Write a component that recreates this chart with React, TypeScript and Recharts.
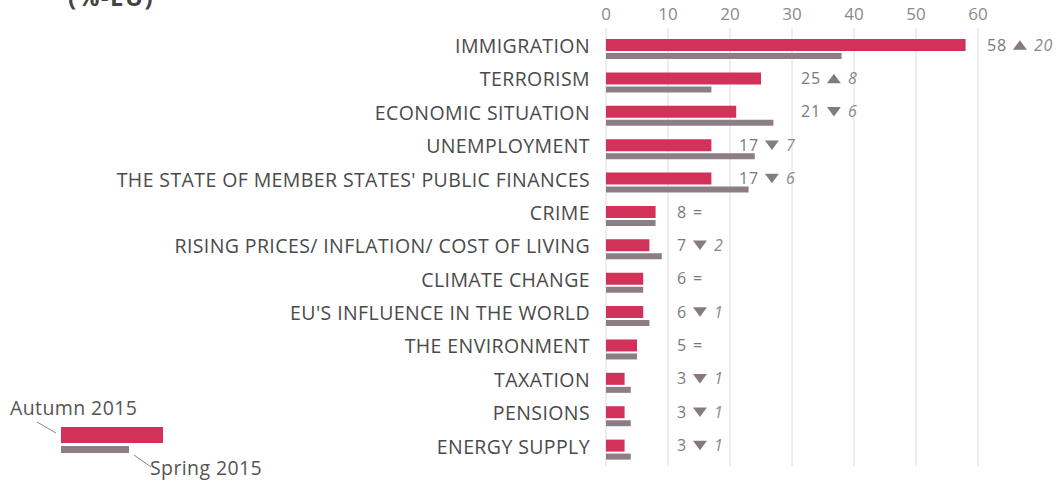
import React from "react";
import { BarChart, Bar, XAxis, YAxis, CartesianGrid, LabelList } from "recharts";

const categories = [
  "IMMIGRATION",
  "TERRORISM",
  "ECONOMIC SITUATION",
  "UNEMPLOYMENT",
  "THE STATE OF MEMBER STATES' PUBLIC FINANCES",
  "CRIME",
  "RISING PRICES/ INFLATION/ COST OF LIVING",
  "CLIMATE CHANGE",
  "EU'S INFLUENCE IN THE WORLD",
  "THE ENVIRONMENT",
  "TAXATION",
  "PENSIONS",
  "ENERGY SUPPLY",
];
const autumn2015 = [58, 25, 21, 17, 17, 8, 7, 6, 6, 5, 3, 3, 3];
const spring2015 = [38, 17, 27, 24, 23, 8, 9, 6, 7, 5, 4, 4, 4];
const changeDir = ["up", "up", "down", "down", "down", "eq", "down", "eq", "down", "eq", "down", "down", "down"];
const changeVal = [20, 8, 6, 7, 6, 0, 2, 0, 1, 0, 1, 1, 1];
const xTicks = [0, 10, 20, 30, 40, 50, 60];

const data = categories.map((name, i) => ({
  name,
  autumn: autumn2015[i],
  spring: spring2015[i],
  dir: changeDir[i],
  chg: changeVal[i],
}));

const RED = "#d2325a";
const GREY = "#8c7e84";
const FONT = "'Open Sans', 'Noto Sans', sans-serif";

const CatTick = (props: any) => {
  const { x, y, payload } = props;
  return (
    <text x={x} y={y - 2.5} dy="0.35em" textAnchor="end" fill="#4a4a4a" fontSize={19.5} letterSpacing={0.4} fontFamily={FONT}>
      {payload.value}
    </text>
  );
};

const LBL_FS = 16;
const LBL_LS = 0.8;
const DIGIT_W = 0.572 * LBL_FS + LBL_LS;

const ValueLabel = (props: any) => {
  const { x, y, width, height, value, index } = props;
  const v = Number(value);
  const pxPerUnit = width / v;
  const lx = x + Math.ceil(v / 10) * 10 * pxPerUnit + 9;
  const cy = y + height / 2;
  const d = data[index];
  const numW = String(v).length * DIGIT_W;
  const tx = lx + numW + 6;
  const tw = 14;
  const th = 9.5;
  return (
    <g>
      <text x={lx} y={cy} dy="0.35em" fontSize={LBL_FS} letterSpacing={LBL_LS} fontFamily={FONT} fill="#7a7a7a">
        {v}
      </text>
      {d.dir === "eq" ? (
        <text x={tx} y={cy} dy="0.35em" fontSize={LBL_FS} fontFamily={FONT} fill="#7a7a7a">=</text>
      ) : (
        <>
          <path
            d={
              d.dir === "up"
                ? `M${tx},${cy + th / 2} L${tx + tw},${cy + th / 2} L${tx + tw / 2},${cy - th / 2} Z`
                : `M${tx},${cy - th / 2} L${tx + tw},${cy - th / 2} L${tx + tw / 2},${cy + th / 2} Z`
            }
            fill="#857a7e"
          />
          <text x={tx + tw + 7} y={cy} dy="0.35em" fontSize={LBL_FS} letterSpacing={LBL_LS} fontStyle="italic" fontFamily={FONT} fill="#8a8a8a">
            {d.chg}
          </text>
        </>
      )}
    </g>
  );
};

export default function App() {
  return (
    <div style={{ position: "absolute", left: 0, top: 0, width: 1061, height: 481, background: "#fff" }}>
      <BarChart
        width={1061}
        height={481}
        data={data}
        layout="vertical"
        margin={{ top: 0, right: 83, bottom: 15, left: 0 }}
        barGap={2}
        barCategoryGap={0}
      >
        <CartesianGrid horizontal={false} vertical={true} stroke="#dcdcdc" />
        <XAxis
          type="number"
          orientation="top"
          domain={[0, 60]}
          ticks={xTicks}
          height={32}
          axisLine={false}
          tickSize={4}
          tickMargin={8}
          tickLine={{ stroke: "#dcdcdc" }}
          tick={{ fill: "#8a8a8a", fontSize: 17, fontFamily: FONT }}
        />
        <YAxis
          type="category"
          dataKey="name"
          width={606}
          axisLine={false}
          tickLine={false}
          tickSize={0}
          tickMargin={16}
          tick={<CatTick />}
          interval={0}
        />
        <Bar dataKey="autumn" fill={RED} barSize={12} isAnimationActive={false}>
          <LabelList dataKey="autumn" content={<ValueLabel />} />
        </Bar>
        <Bar dataKey="spring" fill={GREY} barSize={6} isAnimationActive={false} />
      </BarChart>
      <svg width={1061} height={481} style={{ position: "absolute", left: 0, top: 0, pointerEvents: "none" }}>
        <text x={68} y={6} fontSize={24} fontWeight="bold" letterSpacing={1.5} fill="#444" fontFamily={FONT}>(%-EU)</text>
        <text x={10} y={415} fontSize={19.5} letterSpacing={0.4} fill="#555" fontFamily={FONT}>Autumn 2015</text>
        <line x1={37} y1={422} x2={56} y2={433} stroke="#888" strokeWidth={1} />
        <rect x={61} y={427} width={102} height={16} fill={RED} />
        <rect x={61} y={446} width={68} height={7} fill={GREY} />
        <line x1={134} y1={455} x2={151} y2={467} stroke="#888" strokeWidth={1} />
        <text x={150} y={475} fontSize={19.5} letterSpacing={0.4} fill="#555" fontFamily={FONT}>Spring 2015</text>
      </svg>
    </div>
  );
}
